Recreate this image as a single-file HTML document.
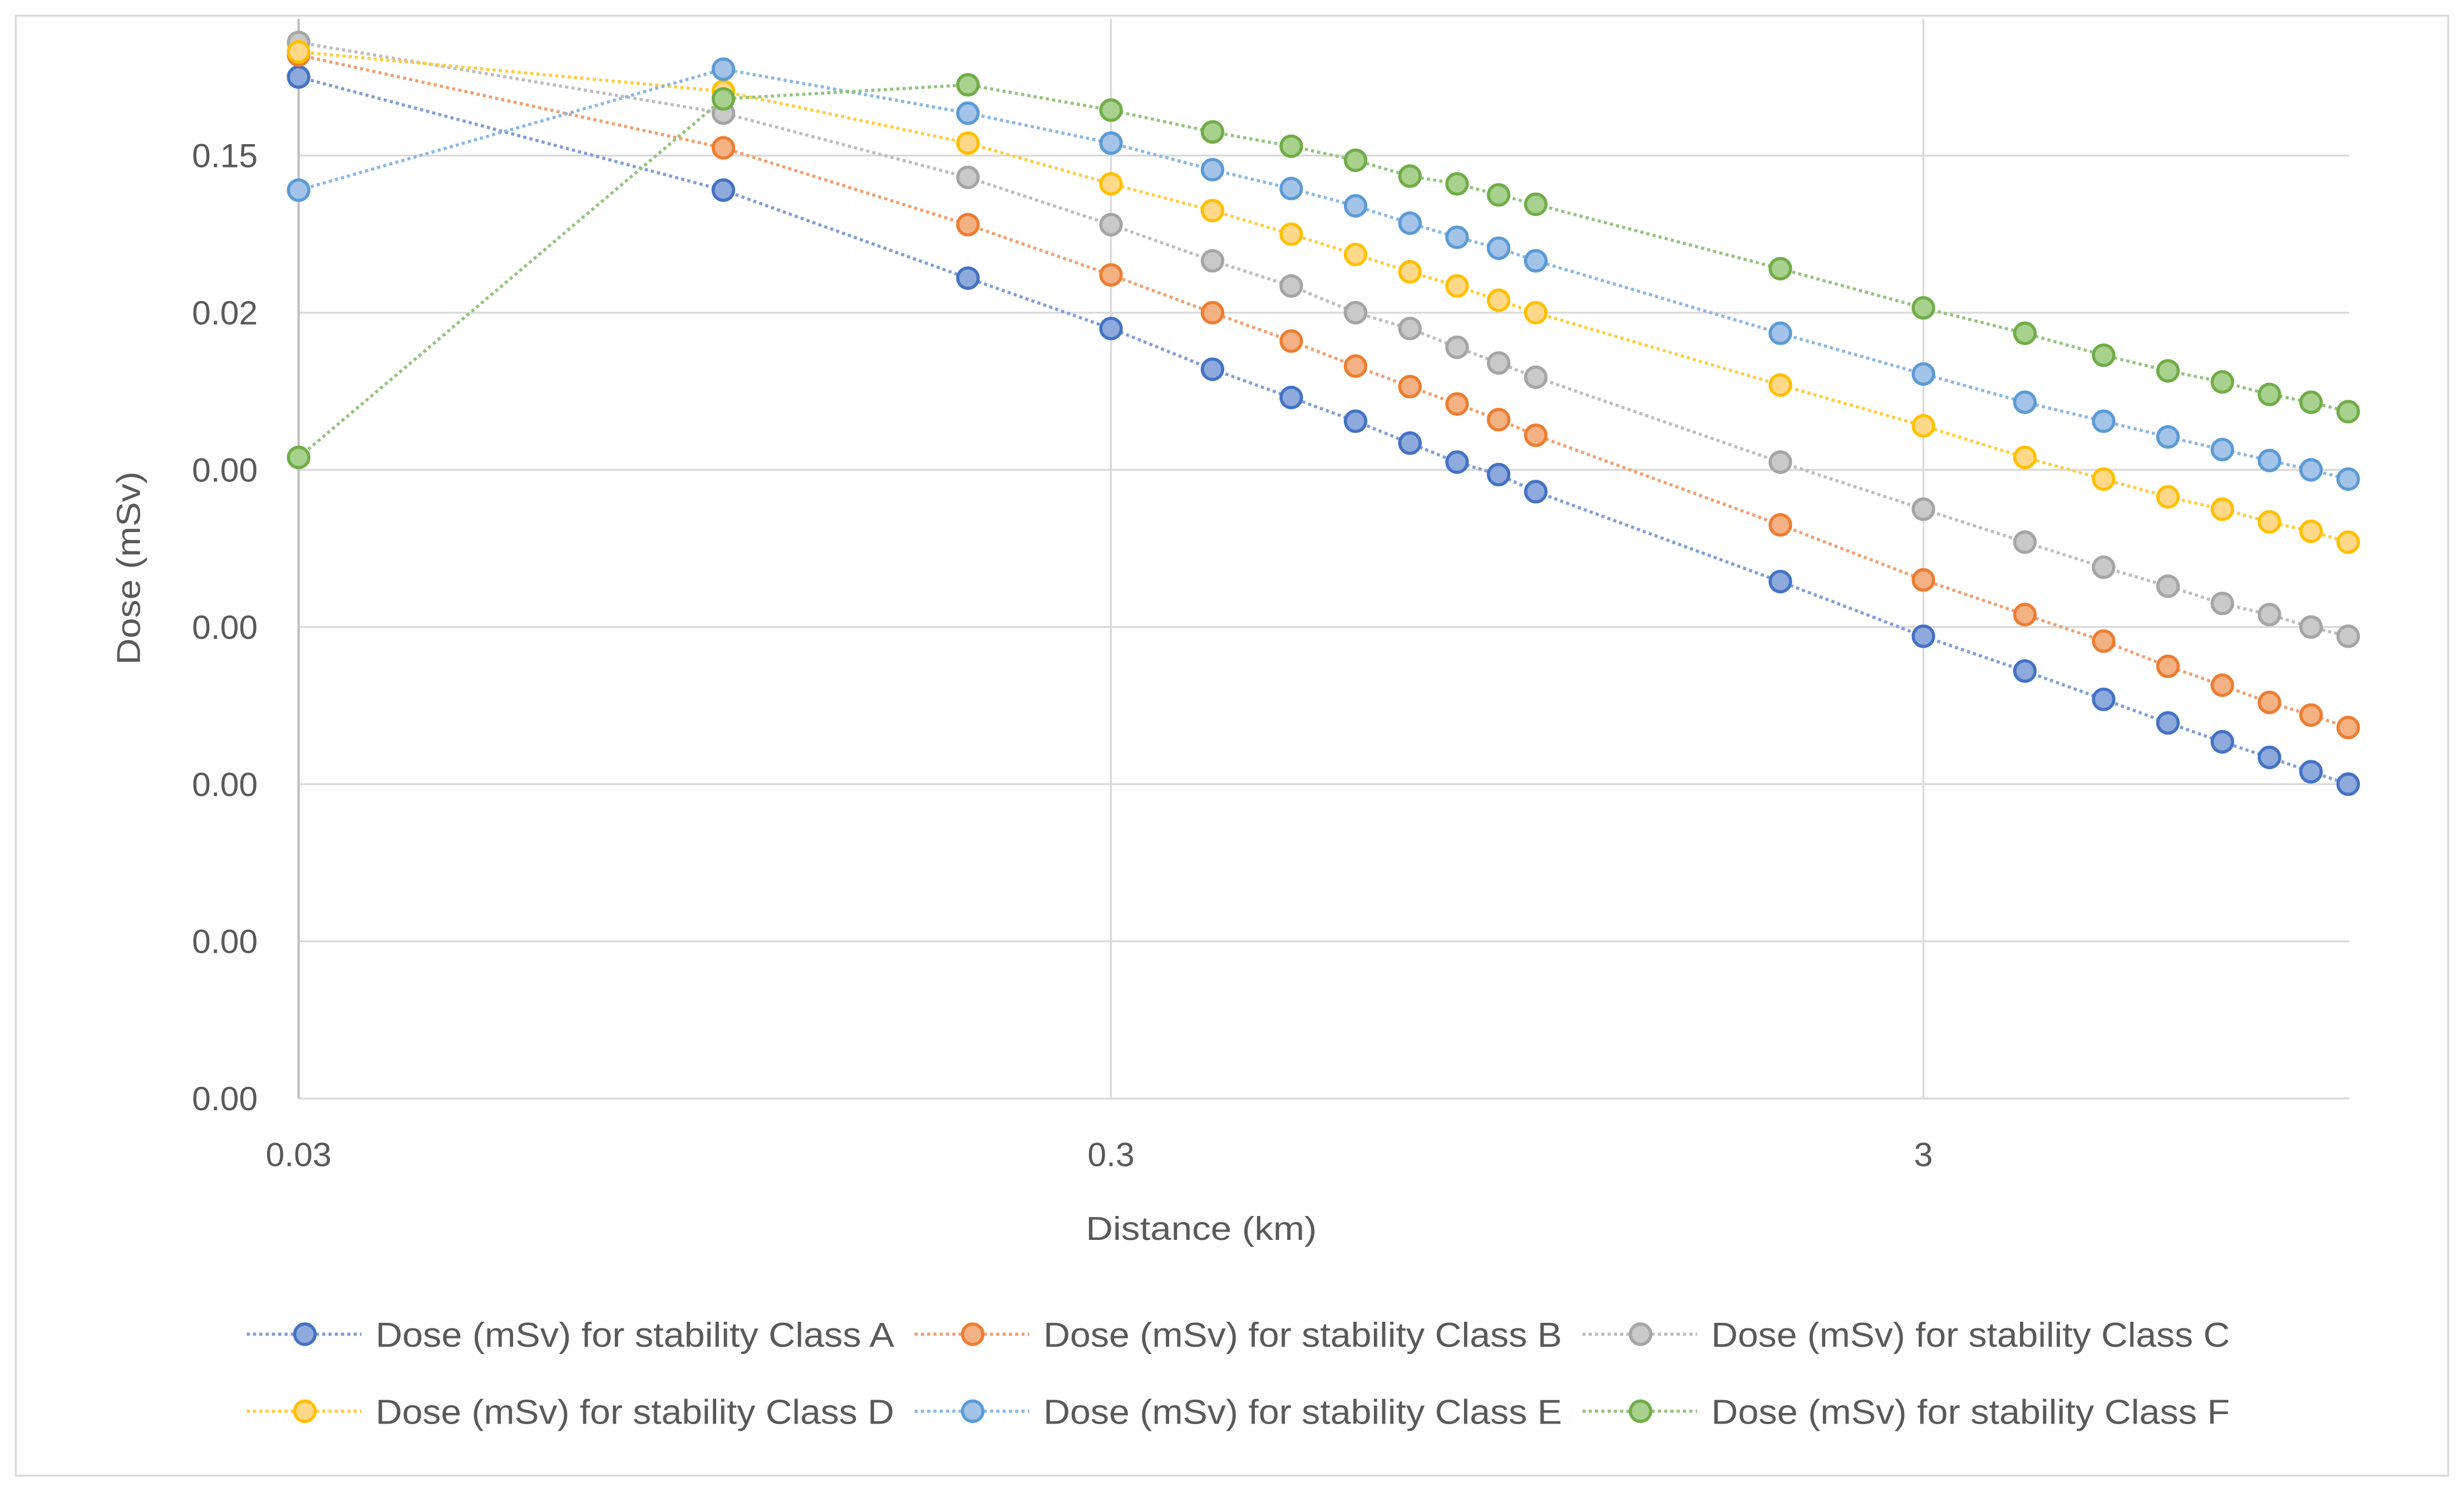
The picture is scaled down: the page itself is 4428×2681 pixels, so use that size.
<!DOCTYPE html>
<html><head><meta charset="utf-8"><style>html,body{margin:0;padding:0;background:#fff}svg{display:block}text{font-family:"Liberation Sans",sans-serif;fill:#595959}</style></head>
<body>
<svg id="chart" width="4428" height="2681" viewBox="0 0 1568 949.4" xmlns="http://www.w3.org/2000/svg">
<rect x="10" y="10" width="1548" height="929" fill="#fff" stroke="#d9d9d9" stroke-width="1.2"/>
<g id="grid"></g><g id="series"></g><g id="axes"></g><g id="legend"></g>
<text x="691" y="789" font-size="21" textLength="147" lengthAdjust="spacingAndGlyphs">Distance (km)</text>
<text transform="translate(89,423) rotate(-90)" font-size="21" textLength="123" lengthAdjust="spacingAndGlyphs">Dose (mSv)</text>
</svg>
<script>
const distances=[0.03,0.1,0.2,0.3,0.4,0.5,0.6,0.7,0.8,0.9,1,2,3,4,5,6,7,8,9,10];
const seriesA=[0.474,0.0904,0.0249,0.0119,0.00655,0.00433,0.00306,0.00222,0.00168,0.0014,0.00109,2.92e-4,1.31e-4,7.87e-5,5.2e-5,3.68e-5,2.79e-5,2.22e-5,1.8e-5,1.5e-5];
const seriesB=[0.655,0.168,0.0545,0.0261,0.015,0.0099,0.00686,0.00508,0.00394,0.00313,0.00249,6.7e-4,2.99e-4,1.8e-4,1.22e-4,8.43e-5,6.4e-5,4.97e-5,4.13e-5,3.44e-5];
const seriesC=[0.787,0.279,0.109,0.0545,0.0321,0.0222,0.015,0.0119,0.00904,0.00718,0.00583,0.00168,8.43e-4,5.2e-4,3.6e-4,2.73e-4,2.12e-4,1.8e-4,1.5e-4,1.31e-4];
const seriesD=[0.686,0.385,0.18,0.0991,0.067,0.0474,0.0352,0.0273,0.0222,0.018,0.015,0.0052,0.00286,0.0018,0.00131,0.00101,8.43e-4,7.0e-4,6.1e-4,5.2e-4];
const seriesE=[0.0904,0.532,0.279,0.18,0.122,0.0925,0.0718,0.0557,0.0453,0.0386,0.0321,0.0111,0.00611,0.00404,0.00306,0.00243,0.00202,0.00172,0.0015,0.00131];
const seriesF=[0.0018,0.344,0.423,0.292,0.212,0.172,0.14,0.111,0.0991,0.0843,0.0735,0.0286,0.0161,0.0111,0.00805,0.0064,0.00544,0.00453,0.00404,0.00352];
const seriesNames=["Dose (mSv) for stability Class A","Dose (mSv) for stability Class B","Dose (mSv) for stability Class C","Dose (mSv) for stability Class D","Dose (mSv) for stability Class E","Dose (mSv) for stability Class F"];
const yTickValues=[0.15,0.015,0.0015,1.5e-4,1.5e-5,1.5e-6,1.5e-7];
const yTickLabels=["0.15","0.02","0.00","0.00","0.00","0.00","0.00"];
const xTickValues=[0.03,0.3,3];
const xTickLabels=["0.03","0.3","3"];

const NS="http://www.w3.org/2000/svg";
const X0=190,X1=1495,DEC=517,YB=699,PT=12;
function xs(v){return X0+Math.log10(v/0.03)*DEC;}
function ys(v){return (0.166-Math.log10(v))*100;}
function mk(tag,attrs,parent){const e=document.createElementNS(NS,tag);for(const k in attrs)e.setAttribute(k,attrs[k]);parent.appendChild(e);return e;}
const grid=document.getElementById('grid'),axes=document.getElementById('axes'),ser=document.getElementById('series'),leg=document.getElementById('legend');
yTickValues.forEach((v,i)=>{const y=ys(v);
 const l=mk('line',{x1:X0,x2:X1,y1:y,y2:y,stroke:'#d9d9d9','stroke-width':1.2},grid);
 
 
 const t=mk('text',{x:164,y:y+7.5,'font-size':21.5,'text-anchor':'end'},axes);t.textContent=yTickLabels[i];
 
 
});
xTickValues.forEach((v,i)=>{const x=xs(v);
 if(i>0){const l=mk('line',{x1:x,x2:x,y1:PT,y2:YB,stroke:'#d9d9d9','stroke-width':1.2},grid);
 
 }
 const t=mk('text',{x:x,y:742,'font-size':21.5,'text-anchor':'middle'},axes);t.textContent=xTickLabels[i];
 
 
});
const ax=mk('line',{x1:X0,x2:X0,y1:PT,y2:YB,stroke:'#bfbfbf','stroke-width':1.5},grid);


const colors=[["#4472c4","#8ea9db","#7f9ed6"],["#ed7d31","#f4b183","#f0a070"],["#a5a5a5","#c9c9c9","#bdbdbd"],["#ffc000","#ffd88a","#ffcc40"],["#5b9bd5","#a4c3e8","#8ab8e3"],["#70ad47","#a9d18e","#93c47d"]];
const all=[seriesA,seriesB,seriesC,seriesD,seriesE,seriesF];
const letters=["a","b","c","d","e","f"];
all.forEach((s,k)=>{const g=mk('g',{},ser);
 
 
 const pts=s.map((v,i)=>xs(distances[i]).toFixed(1)+','+ys(v).toFixed(1)).join(' ');
 const pl=mk('polyline',{points:pts,fill:'none',stroke:colors[k][2],'stroke-width':2,'stroke-dasharray':'2 2'},g);
 
 
 s.forEach((v,i)=>{const c=mk('circle',{cx:xs(distances[i]),cy:ys(v),r:6.5,fill:colors[k][1],stroke:colors[k][0],'stroke-width':2},g);
  
  });
});
const legPos=[[157,849],[582,849],[1007,849],[157,898],[582,898],[1007,898]];
seriesNames.forEach((n,k)=>{const [x,y]=legPos[k];const g=mk('g',{},leg);
 
 
 mk('line',{x1:x,x2:x+73,y1:y,y2:y,stroke:colors[k][2],'stroke-width':2,'stroke-dasharray':'2 2'},g);
 mk('circle',{cx:x+37,cy:y,r:6.5,fill:colors[k][1],stroke:colors[k][0],'stroke-width':2},g);
 const t=mk('text',{x:x+82,y:y+8,'font-size':22,textLength:330,lengthAdjust:'spacingAndGlyphs'},g);t.textContent=n;
 
 
});
</script>
</body></html>
